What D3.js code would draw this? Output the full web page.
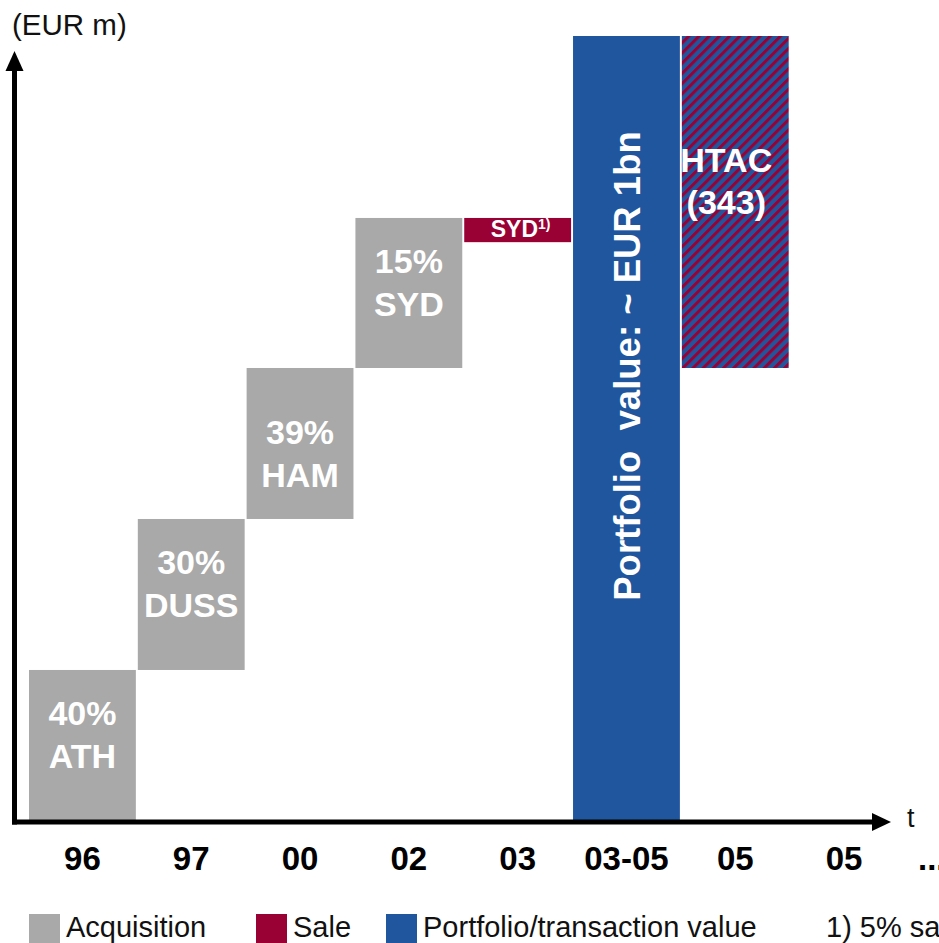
<!DOCTYPE html>
<html>
<head>
<meta charset="utf-8">
<script src="https://cdn.jsdelivr.net/npm/d3@7"></script>
<style>
  body { margin: 0; background: #fff; overflow: hidden; }
  svg { display: block; font-family: "Liberation Sans", Arial, sans-serif; }
</style>
</head>
<body>
<svg id="chart"></svg>
<script>
// periods on the x axis
const periods = ['96', '97', '00', '02', '03', '03-05', '05', '05']

// bars as floating ranges (EUR m, schematic)
const barFrom = [0, 155, 311, 467, 622, 0, 810]
const barTo = [155, 311, 467, 622, 597, 810, 467]
const barKind = ['acq', 'acq', 'acq', 'acq', 'sale', 'value', 'htac']
const shares = ['40%', '30%', '39%', '15%']
const sites = ['ATH', 'DUSS', 'HAM', 'SYD']

const legendNames = ['Acquisition', 'Sale', 'Portfolio/transaction value']
const legendKinds = ['acq', 'sale', 'value']

const width = 939
const height = 943

const colors = { acq: '#a9a9a9', sale: '#990033', value: '#1f569d', htac: 'url(#hatch)' }

const svg = d3.select('#chart').attr('width', width).attr('height', height)

const defs = svg.append('defs')
const pat = defs.append('pattern')
    .attr('id', 'hatch')
    .attr('patternUnits', 'userSpaceOnUse')
    .attr('width', 7.2)
    .attr('height', 7.2)
    .attr('patternTransform', 'rotate(45)')
pat.append('rect').attr('width', 7.2).attr('height', 7.2).attr('fill', '#1f569d')
pat.append('rect').attr('width', 3).attr('height', 7.2).attr('fill', '#990033')

const x = d3.scaleBand()
    .domain(d3.range(periods.length))
    .range([29, 897.5])
    .paddingInner(0.018)
    .paddingOuter(0)

const y = d3.scaleLinear()
    .domain([0, 810])
    .range([820, 36])

const bars = barFrom.map((v, i) => ({ i, from: v, to: barTo[i], kind: barKind[i] }))
const mid = d => x(d.i) + x.bandwidth() / 2

svg.selectAll('rect.bar')
    .data(bars)
    .enter()
    .append('rect')
    .attr('class', 'bar')
    .attr('x', d => x(d.i))
    .attr('width', x.bandwidth())
    .attr('y', d => y(Math.max(d.from, d.to)))
    .attr('height', d => Math.abs(y(d.from) - y(d.to)))
    .attr('fill', d => colors[d.kind])

// acquisition labels (HAM sits a bit lower in its box)
const acq = bars.filter(d => d.kind === 'acq')
const acqText = svg.selectAll('text.acq')
    .data(acq)
    .enter()
    .append('text')
    .attr('class', 'acq')
    .attr('text-anchor', 'middle')
    .attr('fill', '#fff')
    .attr('font-weight', 'bold')
    .attr('font-size', 34)
const shift = d => sites[d.i] === 'HAM' ? 21 : 0
acqText.append('tspan')
    .attr('x', mid)
    .attr('y', d => (y(d.from) + y(d.to)) / 2 - 20 + shift(d))
    .text(d => shares[d.i])
acqText.append('tspan')
    .attr('x', mid)
    .attr('y', d => (y(d.from) + y(d.to)) / 2 + 23 + shift(d))
    .text(d => sites[d.i])

// sale label
const sale = bars[4]
const saleText = svg.append('text')
    .attr('x', mid(sale) + 3)
    .attr('y', y(sale.from) + 19)
    .attr('text-anchor', 'middle')
    .attr('fill', '#fff')
    .attr('font-weight', 'bold')
    .attr('font-size', 23)
saleText.append('tspan').text('SYD')
saleText.append('tspan').attr('font-size', 14).attr('dy', -8).text('1)')

// portfolio value label, rotated
const pv = bars[5]
svg.append('text')
    .attr('transform', `translate(${mid(pv) + 14},${366}) rotate(-90)`)
    .attr('text-anchor', 'middle')
    .attr('fill', '#fff')
    .attr('font-weight', 'bold')
    .attr('font-size', 36.5)
    .style('white-space', 'pre')
    .text('Portfolio  value: ~ EUR 1bn')

// HTAC label
const ht = bars[6]
const htText = svg.append('text')
    .attr('text-anchor', 'middle')
    .attr('fill', '#fff')
    .attr('font-weight', 'bold')
    .attr('font-size', 34)
htText.append('tspan').attr('x', mid(ht) - 9).attr('y', 172).text('HTAC')
htText.append('tspan').attr('x', mid(ht) - 9).attr('y', 214).text('(343)')

// axes with arrow heads
const axisG = svg.append('g')
axisG.append('line')
    .attr('x1', 14.5).attr('y1', 66).attr('x2', 14.5).attr('y2', 824.5)
    .attr('stroke', '#000').attr('stroke-width', 5)
axisG.append('line')
    .attr('x1', 12).attr('y1', 822).attr('x2', 876).attr('y2', 822)
    .attr('stroke', '#000').attr('stroke-width', 5)
axisG.append('path')
    .attr('d', 'M14.5,51 L5.5,71 L23.5,71 Z')
    .attr('fill', '#000')
axisG.append('path')
    .attr('d', 'M891,822 L872,813 L872,831 Z')
    .attr('fill', '#000')

svg.append('text')
    .attr('x', 12).attr('y', 35)
    .attr('font-size', 29.5)
    .attr('fill', '#111')
    .text('(EUR m)')

svg.append('text')
    .attr('x', 907).attr('y', 827)
    .attr('font-size', 27)
    .attr('fill', '#111')
    .text('t')

// period labels
svg.selectAll('text.tick')
    .data(periods)
    .enter()
    .append('text')
    .attr('class', 'tick')
    .attr('x', (d, i) => x(i) + x.bandwidth() / 2)
    .attr('y', 870)
    .attr('text-anchor', 'middle')
    .attr('font-weight', 'bold')
    .attr('font-size', 33)
    .text(d => d)

svg.append('text')
    .attr('x', 918).attr('y', 870)
    .attr('font-weight', 'bold')
    .attr('font-size', 33)
    .text('...')

// legend
const legX = [29, 256, 386]
legendNames.forEach((name, i) => {
    svg.append('rect')
        .attr('x', legX[i]).attr('y', 914)
        .attr('width', 31).attr('height', 31)
        .attr('fill', colors[legendKinds[i]])
    svg.append('text')
        .attr('x', legX[i] + 37).attr('y', 937)
        .attr('font-size', 29)
        .attr('fill', '#111')
        .text(name)
})
svg.append('text')
    .attr('x', 826).attr('y', 937)
    .attr('font-size', 29)
    .attr('fill', '#111')
    .text('1) 5% sale')
</script>
</body>
</html>
